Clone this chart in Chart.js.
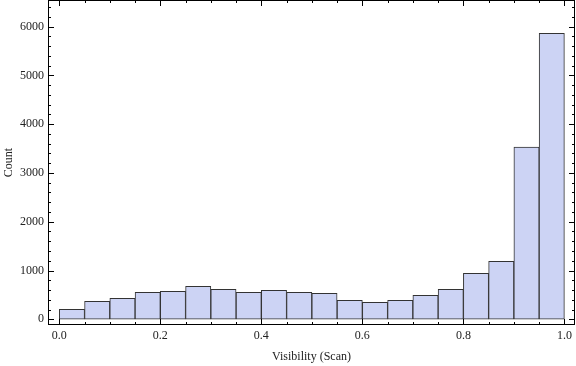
<!DOCTYPE html>
<html>
<head>
<meta charset="utf-8">
<script src="https://cdn.jsdelivr.net/npm/chart.js@4/dist/chart.umd.min.js"></script>
<style>
  html, body { margin: 0; padding: 0; background: #fff; }
  #wrap { width: 576px; height: 366px; }
</style>
</head>
<body>
<div id="wrap"><canvas id="hist"></canvas></div>
<script>
// bin centres (width 0.05) and counts
const binCenters = [0.025, 0.075, 0.125, 0.175, 0.225, 0.275, 0.325, 0.375, 0.425, 0.475,
                    0.525, 0.575, 0.625, 0.675, 0.725, 0.775, 0.825, 0.875, 0.925, 0.975];
const counts = [205, 369, 430, 553, 574, 676, 615, 553, 594, 553,
                533, 390, 349, 390, 492, 615, 943, 1189, 3533, 5863];
const xTicks = [0.0, 0.2, 0.4, 0.6, 0.8, 1.0];
const yTicks = [0, 1000, 2000, 3000, 4000, 5000, 6000];

const serif = "'Liberation Serif', 'DejaVu Serif', serif";

// frame + inward ticks on all four sides, like the original plot
const framePlugin = {
  id: "frame",
  afterDraw(chart) {
    const { ctx, chartArea: a, scales } = chart;
    const xs = scales.x, ys = scales.y;
    ctx.save();
    ctx.strokeStyle = "#000";
    ctx.lineWidth = 1;
    ctx.strokeRect(a.left + 0.5, a.top + 0.5, a.right - a.left - 1, a.bottom - a.top - 1);
    ctx.beginPath();
    for (let i = 0; i <= 20; i++) {
      const v = i * 0.05;
      const len = i % 4 === 0 ? 6 : 3;
      const px = Math.round(xs.getPixelForValue(v)) + 0.5;
      ctx.moveTo(px, a.bottom); ctx.lineTo(px, a.bottom - len);
      ctx.moveTo(px, a.top); ctx.lineTo(px, a.top + len);
    }
    for (let v = 0; v <= 6400; v += 200) {
      const len = v % 1000 === 0 ? 6 : 3;
      const py = Math.round(ys.getPixelForValue(v)) + 0.5;
      ctx.moveTo(a.left, py); ctx.lineTo(a.left + len, py);
      ctx.moveTo(a.right, py); ctx.lineTo(a.right - len, py);
    }
    ctx.stroke();
    ctx.restore();
  }
};

const ctx = document.getElementById("hist").getContext("2d");
const hist = new Chart(ctx, {
  type: "bar",
  data: {
    datasets: [{
      label: "Count",
      data: binCenters.map((x, i) => ({ x: x, y: counts[i] })),
      backgroundColor: "#ccd3f4",
      borderColor: "#333",
      borderWidth: 1,
      borderSkipped: false,
      barPercentage: 1.0,
      categoryPercentage: 1.0
    }]
  },
  options: {
    responsive: true,
    maintainAspectRatio: false,
    animation: false,
    layout: { padding: { top: 0, right: 1, left: 0, bottom: 0 } },
    plugins: { legend: { display: false }, tooltip: { enabled: false } },
    scales: {
      x: {
        type: "linear",
        offset: false,
        min: -0.0224,
        max: 1.021,
        grid: { display: false, drawTicks: false, offset: false },
        border: { display: false },
        afterBuildTicks: (s) => { s.ticks = xTicks.map(v => ({ value: v })); },
        afterFit: (s) => { s.height = 41; s.paddingLeft = 0; s.paddingRight = 0; },
        ticks: {
          padding: 4,
          maxRotation: 0,
          color: "#222",
          font: { family: serif, size: 12 },
          callback: (v) => v.toFixed(1)
        },
        title: {
          display: true,
          text: "Visibility (Scan)",
          color: "#222",
          font: { family: serif, size: 12 },
          padding: { top: 2, bottom: 2 }
        }
      },
      y: {
        min: -117,
        max: 6546,
        grid: { display: false, drawTicks: false },
        border: { display: false },
        afterBuildTicks: (s) => { s.ticks = yTicks.map(v => ({ value: v })); },
        afterFit: (s) => { s.width = 48; s.paddingTop = 0; s.paddingBottom = 0; },
        ticks: {
          padding: 4,
          color: "#222",
          font: { family: serif, size: 12 },
          callback: (v) => String(v)
        },
        title: {
          display: true,
          text: "Count",
          color: "#222",
          font: { family: serif, size: 12 },
          padding: { top: 2, bottom: 2 }
        }
      }
    }
  },
  plugins: [framePlugin]
});
</script>
</body>
</html>
